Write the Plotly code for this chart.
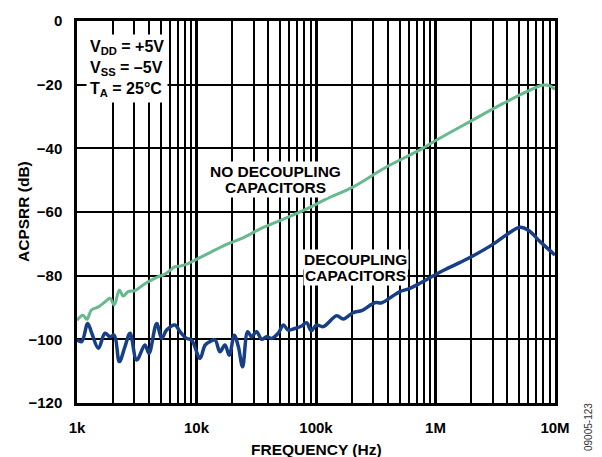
import plotly.graph_objects as go

# ---- data ----
freq_no_decoup = [1000, 1120, 1210, 1320, 1510, 1720, 1890, 2050, 2260, 2440, 2680, 3050,
                  3570, 4180, 4790, 5400, 6050, 6600, 7300, 8300, 9700, 12600, 17300, 23900,
                  35100, 51600, 86300, 119000, 205000, 391000, 741000, 1020000, 1940000,
                  3690000, 5800000, 7980000, 9080000, 10000000]
acpsrr_no_decoup = [-94.0, -92.4, -93.7, -90.8, -89.8, -88.2, -87.1, -89.2, -84.5, -86.4, -85.0, -84.7,
                    -82.9, -81.4, -80.3, -79.6, -78.2, -77.2, -77.0, -76.4, -75.1, -73.0, -70.4, -68.3,
                    -65.1, -62.5, -58.8, -56.1, -52.1, -45.8, -40.5, -37.4, -31.6,
                    -25.9, -22.2, -20.1, -20.4, -21.5]

freq_decoup = [1000, 1095, 1229, 1330, 1510, 1715, 1890, 2050, 2260, 2520, 2780, 3160, 3700,
               4000, 4640, 5110, 5620, 6600, 7280, 8260, 9100, 10700, 11800, 13000, 14300,
               15700, 17300, 18800, 20700, 22400, 24300, 26800, 28900, 31800, 35100, 38600,
               42500, 48300, 53300, 58600, 66500, 75800, 83400, 91300, 101000, 115000, 149000,
               169000, 205000, 244000, 310000, 355000, 430000, 505000, 610000, 741000, 962000,
               1170000, 1870000, 2950000, 4050000, 5090000, 5980000, 7500000, 10000000]
acpsrr_decoup = [-100.2, -100.7, -95.0, -98.1, -102.8, -98.1, -99.2, -98.7, -107.0, -102.3, -98.1, -106.5, -101.8,
                 -104.4, -95.0, -99.7, -97.1, -95.5, -97.6, -99.7, -100.2, -106.0, -101.8, -100.7, -100.2,
                 -103.9, -101.8, -105.0, -98.7, -102.3, -108.6, -97.6, -99.2, -97.6, -100.0, -99.2,
                 -99.7, -98.1, -95.5, -97.1, -96.6, -95.8, -94.8, -97.3, -95.5, -96.0, -92.6,
                 -93.6, -91.6, -90.9, -88.5, -88.5, -86.6, -85.0, -84.0, -82.4, -80.0,
                 -78.3, -74.6, -70.4, -66.8, -64.8, -65.7, -69.3, -73.5]

x_tick_vals = [1e3, 1e4, 1e5, 1e6, 1e7]
x_tick_text = ["1k", "10k", "100k", "1M", "10M"]
y_tick_vals = [0, -20, -40, -60, -80, -100, -120]
y_tick_text = ["0", "\u221220", "\u221240", "\u221260", "\u221280", "\u2212100", "\u2212120"]

FONT = "Liberation Sans, Arial, Helvetica, sans-serif"
GREEN = "#67b98e"
BLUE = "#173f86"

# plot area in pixels (for placing text in paper coordinates)
PL, PR, PT, PB = 77, 555, 21, 403
def px(xp):
    return (xp - PL) / (PR - PL)
def py(yp):
    return 1 - (yp - PT) / (PB - PT)

fig = go.Figure()
fig.add_trace(go.Scatter(x=freq_no_decoup, y=acpsrr_no_decoup, mode="lines",
                         line=dict(color=GREEN, width=3), line_shape="spline",
                         showlegend=False, hoverinfo="skip"))
fig.add_trace(go.Scatter(x=freq_decoup, y=acpsrr_decoup, mode="lines",
                         line=dict(color=BLUE, width=3.5), line_shape="spline",
                         showlegend=False, hoverinfo="skip"))

fig.update_layout(
    width=602, height=457, autosize=False,
    margin=dict(l=PL, r=602 - PR, t=PT, b=457 - PB),
    paper_bgcolor="white", plot_bgcolor="white",
    font=dict(family=FONT, color="black", size=15),
    xaxis=dict(type="log", range=[3, 7], tickvals=x_tick_vals, ticktext=x_tick_text,
               showgrid=True, gridcolor="black", gridwidth=2.5,
               minor=dict(dtick="D1", showgrid=True, gridcolor="black", gridwidth=1.5, ticks=""),
               showline=True, linecolor="black", linewidth=2.5, mirror=True,
               ticks="", ticklabelstandoff=9, zeroline=False,
               tickfont=dict(family=FONT, size=15, weight="bold")),
    yaxis=dict(range=[-120, 0], tickvals=y_tick_vals, ticktext=y_tick_text,
               showgrid=True, gridcolor="black", gridwidth=1.6,
               showline=True, linecolor="black", linewidth=2.5, mirror=True,
               ticks="", ticklabelstandoff=9, zeroline=False,
               tickfont=dict(family=FONT, size=15, weight="bold")),
)

BOLD = dict(family=FONT, size=15.5, weight="bold", color="black")

# axis titles
fig.add_annotation(xref="paper", yref="paper", x=px(316), y=py(449),
                   xanchor="center", yanchor="middle", showarrow=False,
                   text="FREQUENCY (Hz)", font=BOLD)
fig.add_annotation(xref="paper", yref="paper", x=px(23), y=py(212),
                   xanchor="center", yanchor="middle", showarrow=False, textangle=-90,
                   text="ACPSRR (dB)", font=BOLD)

# conditions box
fig.add_annotation(xref="paper", yref="paper", x=px(86), y=py(34),
                   xanchor="left", yanchor="top", align="left", showarrow=False,
                   text="V<sub>DD</sub> = +5V<br>V<sub>SS</sub> = \u20135V<br>T<sub>A</sub> = 25\u00b0C",
                   font=dict(family=FONT, size=16, weight="bold"),
                   bgcolor="white", borderpad=3)

# curve labels, one annotation per line (tight line spacing like the reference)
for text, xc, yc in [("NO DECOUPLING", 275, 171), ("CAPACITORS", 275, 187),
                     ("DECOUPLING", 355, 259), ("CAPACITORS", 355, 275)]:
    fig.add_annotation(xref="paper", yref="paper", x=px(xc), y=py(yc),
                       xanchor="center", yanchor="middle", showarrow=False,
                       text=text, font=BOLD, bgcolor="white", borderpad=1)

fig.add_annotation(xref="paper", yref="paper", x=px(588), y=py(427),
                   xanchor="center", yanchor="middle", showarrow=False, textangle=-90,
                   text="09005-123", font=dict(family=FONT, size=10, color="#333333"))

fig.write_html("out.html")
